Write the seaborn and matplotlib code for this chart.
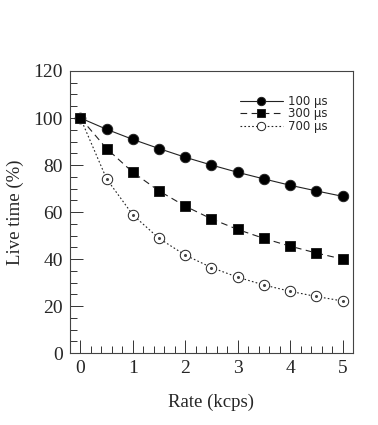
import numpy as np
import pandas as pd
import matplotlib
matplotlib.use("Agg")
import matplotlib.pyplot as plt
from matplotlib.ticker import MultipleLocator
import seaborn as sns

rate = [0, 0.5, 1, 1.5, 2, 2.5, 3, 3.5, 4, 4.5, 5]
live_100 = [100, 95.2, 90.9, 87.0, 83.3, 80.0, 76.9, 74.1, 71.4, 69.0, 66.7]
live_300 = [100, 87.0, 76.9, 69.0, 62.5, 57.1, 52.6, 48.8, 45.5, 42.6, 40.0]
live_700 = [100, 74.1, 58.8, 48.8, 41.7, 36.4, 32.3, 29.0, 26.3, 24.1, 22.2]
labels = ["100 \u00b5s", "300 \u00b5s", "700 \u00b5s"]

df = pd.DataFrame({
    "rate": rate * 3,
    "live": live_100 + live_300 + live_700,
    "series": [labels[0]] * len(rate) + [labels[1]] * len(rate) + [labels[2]] * len(rate),
})

sns.set_style("ticks")
plt.rcParams["font.family"] = ["Liberation Serif", "DejaVu Serif"]

fig = plt.figure(figsize=(3.78, 4.25), dpi=100)
ax = fig.add_axes([0.185, 0.169, 0.749, 0.664])

styles = {
    labels[0]: dict(ls="-", marker="o", mfc="black", ms=7.5, z=3),
    labels[1]: dict(ls=(0, (6, 4)), marker="s", mfc="black", ms=7.5, z=4),
    labels[2]: dict(ls=(0, (1.5, 2)), marker="o", mfc="white", ms=7.5, z=2),
}
for lab in labels:
    sub = df[df["series"] == lab]
    st = styles[lab]
    sns.lineplot(data=sub, x="rate", y="live", ax=ax, color="#222222", lw=0.8,
                 linestyle=st["ls"], marker=st["marker"], markersize=st["ms"],
                 markerfacecolor=st["mfc"], markeredgecolor="#222222",
                 markeredgewidth=0.7, label=lab, legend=False, zorder=st["z"])
# centre dots of the open circles
sub7 = df[df["series"] == labels[2]]
ax.plot(sub7["rate"], sub7["live"], ls="none", marker="o", ms=1.2,
        color="#444444", zorder=2.5)

ax.set_xlim(-0.2, 5.2)
ax.set_ylim(0, 120)
ax.xaxis.set_major_locator(MultipleLocator(1))
ax.xaxis.set_minor_locator(MultipleLocator(0.2))
ax.yaxis.set_major_locator(MultipleLocator(20))
ax.yaxis.set_minor_locator(MultipleLocator(5))
ax.tick_params(which="major", direction="in", length=9.5, width=0.7, color="#333333",
               labelsize=14, pad=5)
ax.tick_params(which="minor", direction="in", length=5, width=0.7, color="#333333")
for sp in ax.spines.values():
    sp.set_linewidth(0.8)
    sp.set_color("#444444")

ax.set_xlabel("Rate (kcps)", fontsize=13.5, labelpad=12)
ax.set_ylabel("Live time (%)", fontsize=13.5, labelpad=7)

leg = ax.legend(loc="center left", bbox_to_anchor=(0.58, 0.848), frameon=False,
                borderpad=0, handlelength=3.6, handletextpad=0.5, labelspacing=-0.05,
                markerscale=0.8, prop={"family": "DejaVu Sans", "size": 8.5})

fig.savefig("out.png", dpi=100)
